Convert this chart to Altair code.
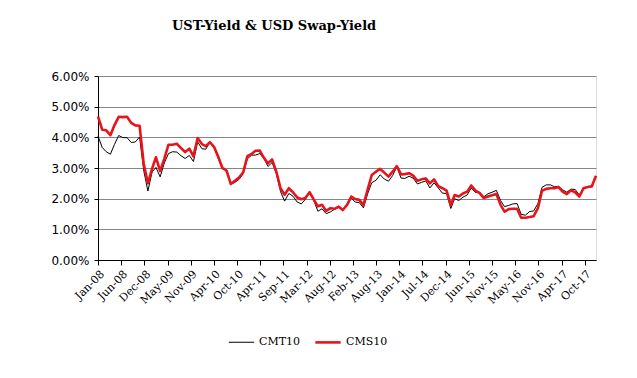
import altair as alt
import pandas as pd

months = [d.strftime("%Y-%m-%dT00:00:00") for d in pd.date_range("2008-01-01", periods=121, freq="MS")]

cmt10 = [
    4.04, 3.67, 3.53, 3.45, 3.77, 4.06, 3.99, 3.99, 3.83, 3.85, 4.01, 2.93,
    2.25, 2.87, 3.02, 2.71, 3.16, 3.47, 3.53, 3.52, 3.40, 3.31, 3.41, 3.21,
    3.85, 3.63, 3.61, 3.84, 3.69, 3.31, 2.97, 2.94, 2.47, 2.53, 2.63, 2.81,
    3.30, 3.42, 3.42, 3.47, 3.32, 3.05, 3.18, 2.82, 2.23, 1.92, 2.17, 2.08,
    1.89, 1.83, 1.98, 2.23, 1.95, 1.59, 1.67, 1.51, 1.57, 1.65, 1.72, 1.62,
    1.78, 2.02, 1.89, 1.87, 1.70, 2.16, 2.52, 2.60, 2.78, 2.64, 2.57, 2.75,
    3.04, 2.67, 2.66, 2.73, 2.67, 2.48, 2.53, 2.58, 2.35, 2.52, 2.35, 2.18,
    2.17, 1.68, 2.00, 1.94, 2.05, 2.12, 2.35, 2.20, 2.21, 2.06, 2.16, 2.21,
    2.27, 1.94, 1.74, 1.78, 1.83, 1.84, 1.49, 1.46, 1.58, 1.60, 1.84, 2.37,
    2.45, 2.45, 2.39, 2.40, 2.29, 2.21, 2.31, 2.30, 2.12, 2.33, 2.38, 2.42,
    2.72,
]

cms10 = [
    4.68, 4.25, 4.23, 4.07, 4.40, 4.67, 4.66, 4.67, 4.47, 4.39, 4.38, 3.15,
    2.50, 2.98, 3.35, 2.90, 3.30, 3.76, 3.76, 3.79, 3.65, 3.52, 3.63, 3.38,
    3.98, 3.78, 3.71, 3.84, 3.69, 3.37, 3.01, 2.91, 2.48, 2.58, 2.69, 2.86,
    3.39, 3.46, 3.56, 3.57, 3.34, 3.15, 3.28, 2.88, 2.34, 2.13, 2.34, 2.21,
    2.04, 1.98, 2.02, 2.21, 1.98, 1.75, 1.80, 1.60, 1.69, 1.67, 1.74, 1.63,
    1.80, 2.07, 1.99, 1.96, 1.79, 2.30, 2.77, 2.88, 2.97, 2.85, 2.72, 2.88,
    3.06, 2.79, 2.80, 2.83, 2.75, 2.58, 2.63, 2.66, 2.50, 2.63, 2.41, 2.34,
    2.26, 1.79, 2.12, 2.07, 2.17, 2.23, 2.43, 2.26, 2.18, 2.02, 2.07, 2.11,
    2.15, 1.80, 1.58, 1.66, 1.67, 1.67, 1.38, 1.38, 1.40, 1.43, 1.69, 2.26,
    2.32, 2.34, 2.34, 2.38, 2.23, 2.15, 2.27, 2.21, 2.07, 2.34, 2.38, 2.40,
    2.75,
]

series_names = ["CMT10", "CMS10"]
series_colors = ["#000000", "#e8141c"]
series_widths = [1.0, 2.6]

# x-axis tick labels every 170 days from the first month
tick_dates = [pd.Timestamp("2008-01-01") + pd.Timedelta(days=170 * k) for k in range(22)]
tick_values = [alt.DateTime(year=t.year, month=t.month, date=t.day) for t in tick_dates]

rows = []
for name, vals in zip(series_names, [cmt10, cms10]):
    for m, v in zip(months, vals):
        rows.append({"date": m, "series": name, "value": v / 100.0})
df = pd.DataFrame(rows)

serif = "DejaVu Serif"

chart = alt.Chart(df).mark_line(strokeJoin="round").encode(
    x=alt.X(
        "date:T",
        title=None,
        scale=alt.Scale(domain=[alt.DateTime(year=2008, month=1, date=1),
                                alt.DateTime(year=2018, month=1, date=1)]),
        axis=alt.Axis(
            values=tick_values,
            format="%b-%y",
            labelAngle=-45,
            labelAlign="right",
            labelBaseline="top",
            labelFont=serif,
            labelFontSize=11,
            labelColor="#000000",
            labelPadding=3,
            labelOverlap=False,
            labelFlush=False,
            domainColor="#000000",
            tickColor="#000000",
            tickSize=5,
            grid=False,
        ),
    ),
    y=alt.Y(
        "value:Q",
        title=None,
        scale=alt.Scale(domain=[0, 0.06], nice=False),
        axis=alt.Axis(
            values=[0, 0.01, 0.02, 0.03, 0.04, 0.05, 0.06],
            format=".2%",
            labelFont="DejaVu Sans",
            labelFontSize=12,
            labelColor="#000000",
            labelPadding=5,
            domainColor="#000000",
            tickColor="#000000",
            tickSize=4,
            grid=True,
            gridColor="#868686",
            gridWidth=1,
        ),
    ),
    color=alt.Color(
        "series:N",
        scale=alt.Scale(domain=series_names, range=series_colors),
        sort=series_names,
        legend=alt.Legend(
            title=None,
            orient="none",
            legendX=130,
            legendY=252,
            direction="horizontal",
            symbolType="stroke",
            symbolSize=640,
            labelFont=serif,
            labelFontSize=11,
            labelColor="#000000",
            labelOffset=4,
            columnPadding=9,
        ),
    ),
    strokeWidth=alt.StrokeWidth(
        "series:N",
        scale=alt.Scale(domain=series_names, range=series_widths),
        sort=series_names,
        legend=None,
    ),
    order=alt.Order("series:N", sort="descending"),
).properties(
    width=498,
    height=184,
    title=alt.TitleParams(
        "UST-Yield & USD Swap-Yield",
        font=serif,
        fontSize=13,
        fontWeight="bold",
        color="#000000",
        anchor="start",
        frame="group",
        dx=74,
        offset=37,
    ),
    padding={"left": 98, "top": 76, "right": 41, "bottom": 118},
    autosize=alt.AutoSizeParams(type="none"),
).configure_view(
    stroke="#868686",
    strokeWidth=1,
).configure(background="#ffffff")

chart.save("out.html", embed_options={"renderer": "svg", "actions": False})
